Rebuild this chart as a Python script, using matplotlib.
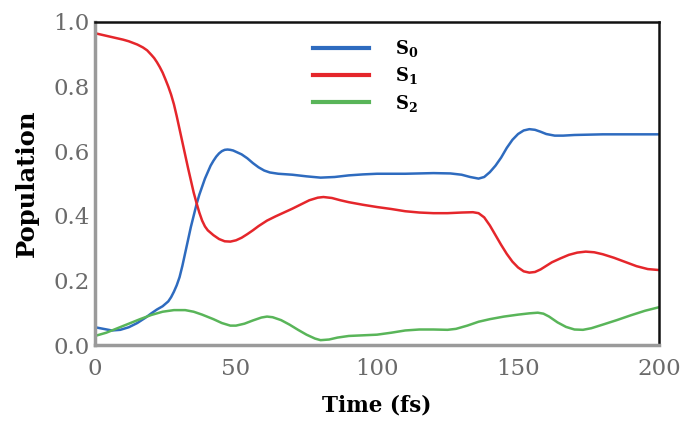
import matplotlib
matplotlib.use("Agg")
import matplotlib.pyplot as plt

# Data
t_s0 = [0, 3, 6, 9, 12, 15, 18, 20, 22, 24, 26, 27, 28, 29, 30, 31, 32, 33, 34, 35, 36, 37, 38, 39, 40,
        41, 42, 43, 44, 45, 46, 47, 48, 49, 50, 52, 54, 56, 58, 60, 62, 65, 70, 75, 80, 85, 90, 95, 100,
        110, 120, 126, 130, 133, 136, 138, 140, 142, 144, 146, 148, 150, 152, 154, 156, 158, 160, 163, 166,
        170, 180, 190, 200]
s0 = [0.055, 0.05, 0.045, 0.047, 0.055, 0.068, 0.085, 0.098, 0.11, 0.12, 0.135, 0.148, 0.165, 0.185, 0.21,
      0.245, 0.285, 0.325, 0.365, 0.40, 0.435, 0.465, 0.49, 0.515, 0.535,
      0.555, 0.57, 0.583, 0.593, 0.6, 0.604, 0.605, 0.604, 0.602, 0.598, 0.59, 0.578, 0.563, 0.55, 0.54,
      0.534, 0.53, 0.527, 0.522, 0.518, 0.52, 0.525, 0.528, 0.53,
      0.53, 0.532, 0.531, 0.527, 0.52, 0.515, 0.52, 0.535, 0.555, 0.58, 0.61, 0.635, 0.653, 0.664, 0.668,
      0.666, 0.66, 0.653, 0.648, 0.648, 0.65, 0.652, 0.652, 0.652]

t_s1 = [0, 5, 10, 12, 15, 17, 18.5, 20, 21, 22, 23, 24, 25, 26, 27, 28, 29, 30, 31, 32, 33, 34, 35, 36,
        37, 38, 39, 40, 42, 44, 46, 48, 50, 52, 54, 56, 58, 61, 64, 67, 70, 73, 76, 79, 81, 84, 87, 90, 95,
        100, 105, 110, 115, 120, 125, 130, 134, 136, 138, 140, 142, 144, 146, 148, 150, 152, 154, 156, 158,
        160, 162, 165, 168, 171, 174, 177, 180, 184, 188, 192, 196, 200]
s1 = [0.965, 0.955, 0.945, 0.94, 0.93, 0.921, 0.912, 0.898, 0.888, 0.875, 0.86, 0.843, 0.822, 0.80, 0.775,
      0.745, 0.708, 0.668, 0.628, 0.588, 0.548, 0.51, 0.472, 0.44,
      0.41, 0.385, 0.367, 0.355, 0.34, 0.328, 0.321, 0.32, 0.324, 0.332, 0.343, 0.355, 0.368, 0.385, 0.398,
      0.41, 0.422, 0.435, 0.448, 0.456, 0.458, 0.455, 0.448, 0.442, 0.434,
      0.427, 0.421, 0.414, 0.41, 0.408, 0.408, 0.41, 0.411, 0.408, 0.395, 0.37, 0.34, 0.31, 0.282, 0.258,
      0.24, 0.228, 0.224, 0.226, 0.234,
      0.245, 0.256, 0.268, 0.279, 0.286, 0.289, 0.287, 0.281, 0.27, 0.257, 0.244, 0.235, 0.232]

t_s2 = [0, 4, 8, 12, 16, 20, 24, 28, 32, 35, 38, 42, 45, 48, 50, 53, 56, 59, 61, 63, 66, 69, 72, 75, 78,
        80, 83, 86, 90, 95, 100, 105, 110, 115, 120, 125, 128, 132, 136, 140, 145, 150, 154, 157, 159, 161,
        164, 167, 170, 173, 176, 180, 185, 190, 195, 200]
s2 = [0.028, 0.038, 0.052, 0.066, 0.08, 0.093, 0.103, 0.108, 0.108, 0.103, 0.094, 0.08, 0.068, 0.06, 0.06,
      0.066, 0.076, 0.085, 0.088, 0.086, 0.077, 0.063, 0.047, 0.032, 0.02,
      0.015, 0.017, 0.023, 0.028, 0.03, 0.032, 0.038, 0.045, 0.048, 0.048, 0.047, 0.05, 0.06, 0.072, 0.08,
      0.088, 0.094, 0.098, 0.1, 0.097, 0.088,
      0.07, 0.056, 0.048, 0.047, 0.052, 0.063, 0.077, 0.092, 0.106, 0.117]

labels = [r"$\mathbf{S}_\mathbf{0}$", r"$\mathbf{S}_\mathbf{1}$", r"$\mathbf{S}_\mathbf{2}$"]
colors = ["#2e6bbf", "#e5262b", "#59b559"]
xticks = [0, 50, 100, 150, 200]
yticks = [0.0, 0.2, 0.4, 0.6, 0.8, 1.0]

plt.rcParams["font.family"] = ["DejaVu Serif"]
plt.rcParams["mathtext.fontset"] = "dejavuserif"

fig = plt.figure(figsize=(6.83, 4.21), dpi=100)
ax = fig.add_axes([0.139, 0.1805, 0.826, 0.7675])

for t, s, c, l in zip([t_s0, t_s1, t_s2], [s0, s1, s2], colors, labels):
    ax.plot(t, s, color=c, lw=1.8, label=l, solid_joinstyle="round")

ax.set_xlim(0, 200)
ax.set_ylim(0, 1.0)
ax.set_xticks(xticks)
ax.set_yticks(yticks)
ax.set_xticklabels([str(x) for x in xticks])
ax.set_yticklabels([f"{y:.1f}" for y in yticks])
ax.tick_params(length=0, labelsize=16.5, labelcolor="#6a6a6a")
ax.tick_params(axis="y", pad=4)
ax.tick_params(axis="x", pad=9)

for side in ["left", "bottom"]:
    ax.spines[side].set_color("#9a9a9a")
    ax.spines[side].set_linewidth(2.5)
for side in ["top", "right"]:
    ax.spines[side].set_color("#111111")
    ax.spines[side].set_linewidth(1.8)

ax.set_xlabel("Time (fs)", fontsize=15.5, fontweight="bold", labelpad=11)
ax.set_ylabel("Population", fontsize=17.5, fontweight="bold", labelpad=10)

leg = ax.legend(loc="upper center", frameon=False, fontsize=13, handlelength=3.1,
                handletextpad=1.4, labelspacing=0.35, bbox_to_anchor=(0.48, 1.0))
for h in leg.get_lines():
    h.set_linewidth(3)

fig.savefig("out.png", dpi=100)
